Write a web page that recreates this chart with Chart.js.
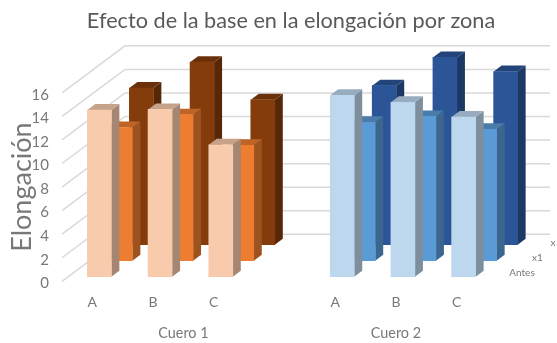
<!DOCTYPE html>
<html>
<head>
<meta charset="utf-8">
<title>Elongación</title>
<script src="https://cdn.jsdelivr.net/npm/chart.js@4/dist/chart.umd.js"></script>
<style>
  html, body { margin: 0; padding: 0; background: #fff; }
  canvas { display: block; }
</style>
</head>
<body>
<canvas id="chart" width="557" height="343"></canvas>
<script>
(function(){
  // values per series, one slot per category (slot 3 is the gap between the two hides)
  const zonas = ['A', 'B', 'C', '', 'A', 'B', 'C'];
  const cueros = ['Cuero 1', 'Cuero 2'];
  const cueroPos = [2, 5.5];
  const antes = [14.15, 14.2, 11.2, null, 15.4, 14.8, 13.55];
  const x1 = [11.3, 12.4, 9.8, null, 11.75, 12.25, 11.15];
  const x2 = [13.3, 15.5, 12.3, null, 13.5, 15.9, 14.7];
  const yTicks = [0, 2, 4, 6, 8, 10, 12, 14, 16];

  const FONT = 'Lato, "Open Sans", sans-serif';
  const GREY = '#787878';
  const WALL = { dx: 63, dy: -47 };      // floor depth, front edge to back wall
  const ROW = { x: 7, y: -4.6, dx: 21, dy: -16 }; // first row offset and step between rows
  const FACE = { dx: 8, dy: -6 };        // depth of a single bar

  function shade(hex, f){
    const n = parseInt(hex.slice(1), 16);
    const c = [n >> 16, (n >> 8) & 255, n & 255].map(v => Math.round(v * f));
    return `rgb(${c[0]},${c[1]},${c[2]})`;
  }
  function poly(ctx, pts, fill){
    ctx.fillStyle = fill;
    ctx.beginPath();
    pts.forEach((p, i) => i ? ctx.lineTo(p[0], p[1]) : ctx.moveTo(p[0], p[1]));
    ctx.closePath();
    ctx.fill();
  }
  function colors(warm, cold){
    return zonas.map((_, i) => i < 4 ? warm : cold);
  }

  // floor-less 3D frame: side wall and back wall lines at every y tick
  const walls = {
    id: 'walls',
    afterLayout(chart){
      chart.titleBlock.left = 25;
      chart.titleBlock.right = 557;
    },
    beforeDatasetsDraw(chart){
      const { ctx, chartArea: a, scales: { y } } = chart;
      ctx.save();
      ctx.strokeStyle = '#d9d9d9';
      ctx.lineWidth = 1.5;
      yTicks.forEach(t => {
        const py = y.getPixelForValue(t);
        ctx.beginPath();
        ctx.moveTo(a.left, py);
        ctx.lineTo(a.left + WALL.dx, py + WALL.dy);
        ctx.lineTo(a.right + WALL.dx, py + WALL.dy);
        ctx.stroke();
      });
      ctx.restore();
    },
    // each series sits on its own row: shift the context, add side and top, let Chart.js paint the front
    beforeDatasetDraw(chart, { index, meta }){
      const { ctx } = chart;
      const ds = chart.data.datasets[index];
      ctx.save();
      ctx.translate(ROW.x + ROW.dx * index, ROW.y + ROW.dy * index);
      meta.data.forEach((el, i) => {
        if (el.skip || ds.data[i] == null) return;
        const { x, y, base, width } = el.getProps(['x', 'y', 'base', 'width'], true);
        const r = x + width / 2, l = x - width / 2;
        poly(ctx, [[r, y], [r + FACE.dx, y + FACE.dy], [r + FACE.dx, base + FACE.dy], [r, base]], shade(ds.backgroundColor[i], 0.66));
        poly(ctx, [[l, y], [l + FACE.dx, y + FACE.dy], [r + FACE.dx, y + FACE.dy], [r, y]], shade(ds.backgroundColor[i], 0.8));
      });
    },
    afterDatasetDraw(chart){
      chart.ctx.restore();
    },
    // series names along the depth axis
    afterDraw(chart){
      const { ctx, chartArea: a, scales: { y } } = chart;
      ctx.save();
      ctx.font = '10px ' + FONT;
      ctx.fillStyle = GREY;
      ctx.textAlign = 'center';
      ctx.textBaseline = 'middle';
      chart.data.datasets.forEach((ds, r) => {
        ctx.fillText(ds.label, a.right + 35 + r * 15.5, y.getPixelForValue(0) - 8.5 - r * 15);
      });
      ctx.restore();
    }
  };

  const base = { grouped: false, barThickness: 24, borderWidth: 0, clip: false };

  new Chart(document.getElementById('chart'), {
    type: 'bar',
    plugins: [walls],
    data: {
      labels: zonas,
      datasets: [
        Object.assign({ label: 'Antes', data: antes, backgroundColor: colors('#f8cbad', '#bdd7ee') }, base),
        Object.assign({ label: 'x1', data: x1, backgroundColor: colors('#ed7d31', '#5b9bd5') }, base),
        Object.assign({ label: 'x', data: x2, backgroundColor: colors('#843c0c', '#2b5597') }, base)
      ]
    },
    options: {
      responsive: false,
      animation: false,
      layout: { padding: { left: 0, right: 70, top: 0, bottom: 0 } },
      plugins: {
        legend: { display: false },
        tooltip: { enabled: false },
        title: {
          display: true,
          text: 'Efecto de la base en la elongación por zona',
          color: '#595959',
          font: { family: FONT, size: 21.7, weight: 'normal' },
          padding: { top: 8, bottom: 58.8 }
        }
      },
      scales: {
        x: {
          type: 'category',
          grid: { display: false, drawTicks: false },
          border: { display: false },
          ticks: { color: GREY, font: { family: FONT, size: 14 }, padding: 13, maxRotation: 0, autoSkip: false },
          afterFit(s){ s.height = 32; }
        },
        cuero: {
          type: 'linear',
          position: 'bottom',
          offset: false,
          min: 0,
          max: 7,
          grid: { display: false, drawTicks: false },
          border: { display: false },
          afterBuildTicks(s){ s.ticks = cueroPos.map(v => ({ value: v })); },
          ticks: {
            color: GREY,
            font: { family: FONT, size: 14.4 },
            padding: 11,
            maxRotation: 0,
            autoSkip: false,
            callback: v => cueros[cueroPos.indexOf(v)]
          },
          afterFit(s){ s.height = 29.7; }
        },
        y: {
          min: 0,
          max: 16,
          grid: { display: false, drawTicks: false },
          border: { display: false },
          afterBuildTicks(s){ s.ticks = yTicks.map(v => ({ value: v })); },
          ticks: { color: GREY, font: { family: FONT, size: 15 }, padding: 13, labelOffset: 2, autoSkip: false },
          title: {
            display: true,
            text: 'Elongación',
            color: GREY,
            font: { family: FONT, size: 27, weight: 'normal' },
            padding: { top: 6, bottom: 0 }
          },
          afterFit(s){ s.width = 62; }
        }
      }
    }
  });
})();
</script>
</body>
</html>
